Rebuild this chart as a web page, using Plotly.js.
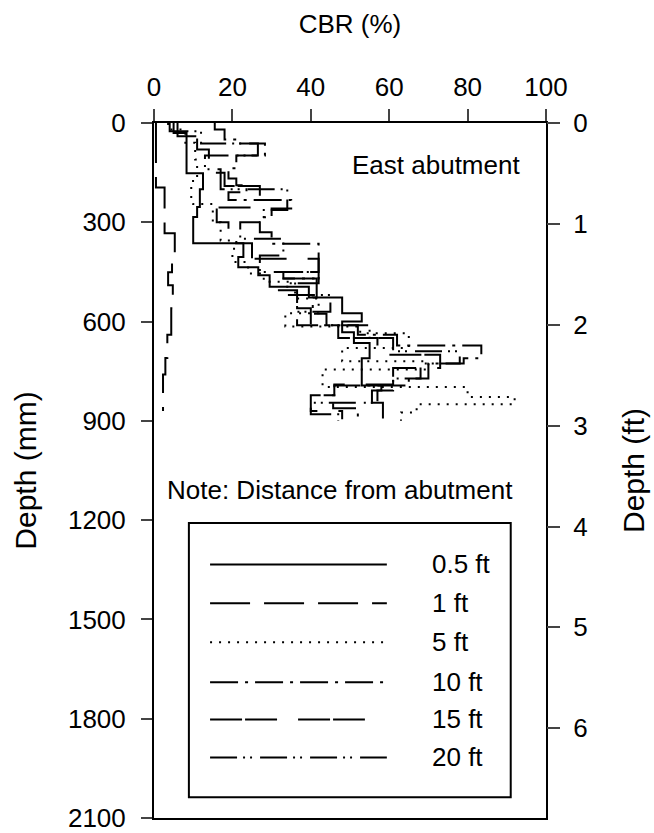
<!DOCTYPE html>
<html><head><meta charset="utf-8">
<script src="https://cdn.plot.ly/plotly-3.0.1.min.js"></script>
<style>html,body{margin:0;padding:0;background:#fff}#chart{width:654px;height:833px}</style>
</head><body><div id="chart"></div>
<script>
// Series names (distance from abutment)
const seriesNames = ['0.5 ft', '1 ft', '5 ft', '10 ft', '15 ft', '20 ft'];

// Depth (mm) at bottom of each layer, and CBR (%) of that layer
const depth05 = [30, 152, 200, 254, 284, 363, 405, 436, 460, 495, 527, 575, 600, 632, 665, 711, 760, 793, 808, 845, 893];
const cbr05   = [5, 8.3, 12.5, 11.7, 11, 10, 22.8, 21.5, 26.6, 29.5, 39.5, 48, 53, 48, 51, 55, 53, 53, 58, 55.6, 58.4];

const depth1 = [195, 333, 410, 451, 490, 560, 640, 710, 760, 870];
const cbr1   = [0.5, 2.7, 5.3, 4.6, 3.6, 4.8, 4.4, 3.4, 2.9, 2.3];

const depth5 = [20, 60, 110, 175, 230, 245, 300, 355, 380, 420, 455, 480, 530, 575, 615, 635, 680, 720, 745, 798, 828, 850, 875, 900];
const cbr5   = [3.6, 8, 10.5, 11, 9.5, 10, 15, 17, 21, 20, 24, 28, 36, 42, 33.5, 52.6, 65, 48, 70, 43, 80, 92, 67, 63];

const depth10 = [20, 50, 62, 98, 137, 168, 188, 209, 233, 258, 285, 330, 365, 450, 470, 527, 576, 611, 640, 672, 711, 727, 772, 793, 823, 862, 893];
const cbr10   = [15.5, 18, 22, 28.3, 21, 19, 21, 23.6, 19, 35, 30, 27, 30, 42, 33, 41.5, 40.5, 44, 52, 62, 83.5, 79, 70, 65, 46, 45.7, 52];

const depth15 = [40, 80, 150, 190, 255, 300, 363, 410, 470, 505, 560, 611, 650, 700, 740, 790, 823, 870, 895];
const cbr15   = [6, 11, 14, 18, 27, 16, 19, 25, 42, 31, 36.5, 40, 47, 57, 73, 61, 46, 40, 48];

const depth20 = [25, 62, 98, 140, 200, 263, 300, 350, 400, 450, 484, 520, 570, 611, 650, 690, 727, 772, 808, 845, 880, 900];
const cbr20   = [4, 12, 26.5, 13, 17, 34, 28, 22, 33, 27, 42, 34, 45, 36.5, 55, 61, 78, 68, 61, 57, 40, 47];

// Axis ticks
const cbrTicks = [0, 20, 40, 60, 80, 100];
const mmTicks = [0, 300, 600, 900, 1200, 1500, 1800, 2100];
const ftTicks = [0, 1, 2, 3, 4, 5, 6];

const allDepths = [depth05, depth1, depth5, depth10, depth15, depth20];
const allCbr = [cbr05, cbr1, cbr5, cbr10, cbr15, cbr20];
const dashes = ['solid', '40px,14px', '2px,7px', '28px,7px,3px,7px', '32px,3px,32px,21px', '27px,6px,2px,5px,2px,8px'];

const FONT = "'Liberation Sans', Arial, sans-serif";
const FS = 26;     // horizontal texts
const FS_V = 30;   // rotated axis titles

const traces = allDepths.map((d, i) => ({
  x: [allCbr[i][0]].concat(allCbr[i]),
  y: [0].concat(d),
  mode: 'lines',
  line: {shape: 'hv', color: '#000', width: 2, dash: dashes[i]},
  name: seriesNames[i],
  showlegend: false,
  hoverinfo: 'skip'
}));
// dummy trace so the right (ft) axis is drawn
traces.push({x: [null, null], y: [0, 2100 / 304.8], yaxis: 'y2', mode: 'lines', showlegend: false, hoverinfo: 'skip'});

// Hand-made legend (long line samples as in the original)
const legX0 = 14.3, legX1 = [59.4, 59.4, 59.4, 59.4, 53.8, 59.4], legTextX = 70.4;
const legDepth = [1334, 1451, 1569, 1690, 1802, 1917];
const shapes = [{type: 'rect', xref: 'x', yref: 'y', x0: 8.9, x1: 91, y0: 1209, y1: 2037, line: {color: '#000', width: 2}}];
const annotations = [];
seriesNames.forEach((n, i) => {
  shapes.push({type: 'line', xref: 'x', yref: 'y', x0: legX0, x1: legX1[i], y0: legDepth[i], y1: legDepth[i], line: {color: '#000', width: 2, dash: dashes[i]}});
  annotations.push({xref: 'x', yref: 'y', x: legTextX, y: legDepth[i], text: n, showarrow: false, xanchor: 'left', yanchor: 'middle', font: {family: FONT, size: FS, color: '#000'}});
});
annotations.push({xref: 'x', yref: 'y', x: 94, y: 128, text: 'East abutment', showarrow: false, xanchor: 'right', yanchor: 'middle', font: {family: FONT, size: FS, color: '#000'}});
annotations.push({xref: 'x', yref: 'y', x: 2.8, y: 1110, text: 'Note: Distance from abutment', showarrow: false, xanchor: 'left', yanchor: 'middle', font: {family: FONT, size: FS, color: '#000'}});

const layout = {
  width: 654, height: 833,
  margin: {l: 154, r: 108, t: 123, b: 15},
  paper_bgcolor: '#fff', plot_bgcolor: '#fff',
  font: {family: FONT, size: FS, color: '#000'},
  showlegend: false,
  xaxis: {
    side: 'top', range: [0, 100], tickvals: cbrTicks, ticks: 'outside', ticklen: 12, tickwidth: 2,
    ticklabelstandoff: 3, tickfont: {family: FONT, size: FS},
    showline: true, linewidth: 2, linecolor: '#000', mirror: true, showgrid: false, zeroline: false,
    title: {text: 'CBR (%)', font: {family: FONT, size: FS}, standoff: 30}
  },
  yaxis: {
    range: [2100, 0], tickvals: mmTicks, ticks: 'outside', ticklen: 11, tickwidth: 2,
    ticklabelstandoff: 10, ticklabeloverflow: 'allow', tickfont: {family: FONT, size: FS},
    showline: true, linewidth: 2, linecolor: '#000', mirror: true, showgrid: false, zeroline: false,
    title: {text: 'Depth (mm)', font: {family: FONT, size: FS_V}, standoff: 22}
  },
  yaxis2: {
    overlaying: 'y', side: 'right', anchor: 'x', range: [2100 / 304.8, 0], tickvals: ftTicks,
    ticks: 'outside', ticklen: 13, tickwidth: 2, ticklabelstandoff: 8, tickfont: {family: FONT, size: FS},
    showline: false, showgrid: false, zeroline: false,
    title: {text: 'Depth (ft)', font: {family: FONT, size: FS_V}, standoff: 36}
  },
  shapes, annotations
};
Plotly.newPlot('chart', traces, layout, {staticPlot: true, displayModeBar: false});
</script></body></html>
